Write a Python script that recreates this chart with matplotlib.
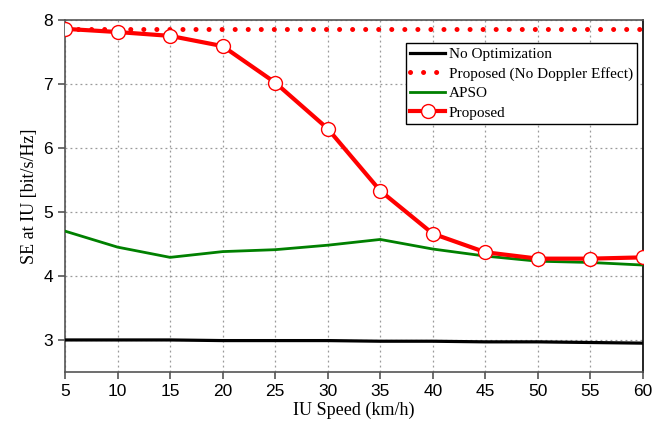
import matplotlib
matplotlib.use("Agg")
import matplotlib.pyplot as plt

speed = [5, 10, 15, 20, 25, 30, 35, 40, 45, 50, 55, 60]
no_opt = [3.00, 3.00, 3.00, 2.99, 2.99, 2.99, 2.98, 2.98, 2.97, 2.97, 2.96, 2.95]
no_doppler = [7.86] * 12
apso = [4.70, 4.45, 4.29, 4.38, 4.41, 4.48, 4.57, 4.42, 4.31, 4.23, 4.21, 4.17]
proposed = [7.86, 7.81, 7.75, 7.59, 7.02, 6.30, 5.33, 4.66, 4.37, 4.27, 4.27, 4.29]

fig = plt.figure(figsize=(6.68, 4.32), dpi=100)
ax = fig.add_axes([0.0973, 0.139, 0.8653, 0.815])

ax.plot(speed, no_opt, color='black', lw=2.3, label='No Optimization', zorder=3)
ax.plot(speed, no_doppler, color='red', lw=3.6, linestyle=(0, (0.01, 2.6)),
        dash_capstyle='round', label='Proposed (No Doppler Effect)', zorder=4)
ax.plot(speed, apso, color='#008000', lw=2.0, label='APSO', zorder=3)
ax.plot(speed, proposed, color='red', lw=3.0, marker='o', markersize=10,
        markerfacecolor='white', markeredgecolor='red', markeredgewidth=1.0,
        label='Proposed', zorder=5)

ax.set_xlim(5, 60)
ax.set_ylim(2.5, 8)
ax.set_xticks(speed)
ax.set_yticks([3, 4, 5, 6, 7, 8])
ax.grid(True, color='#999999', linestyle=(0, (1.5, 2.5)), lw=0.9)
ax.set_axisbelow(True)
for s in ax.spines.values():
    s.set_color('#555555')
    s.set_linewidth(1.2)
ax.spines['right'].set_color('black')
ax.tick_params(direction='out', length=5, color='#555555', labelsize=12.5, width=1.2)
for lab in ax.get_xticklabels() + ax.get_yticklabels():
    lab.set_fontfamily('Liberation Sans')

ax.set_xlabel('IU Speed (km/h)', fontfamily='Liberation Serif', fontsize=13, labelpad=2)
ax.set_ylabel('SE at IU [bit/s/Hz]', fontfamily='Liberation Serif', fontsize=13)

leg = ax.legend(loc='upper right', bbox_to_anchor=(0.99, 0.935),
                prop={'family': 'Liberation Serif', 'size': 11},
                frameon=True, fancybox=False, framealpha=1, edgecolor='black',
                borderpad=0.3, labelspacing=0.38, handlelength=2.3, handletextpad=0.2,
                borderaxespad=0.0)
leg.get_frame().set_linewidth(1.0)

fig.savefig('out.png', dpi=100)
